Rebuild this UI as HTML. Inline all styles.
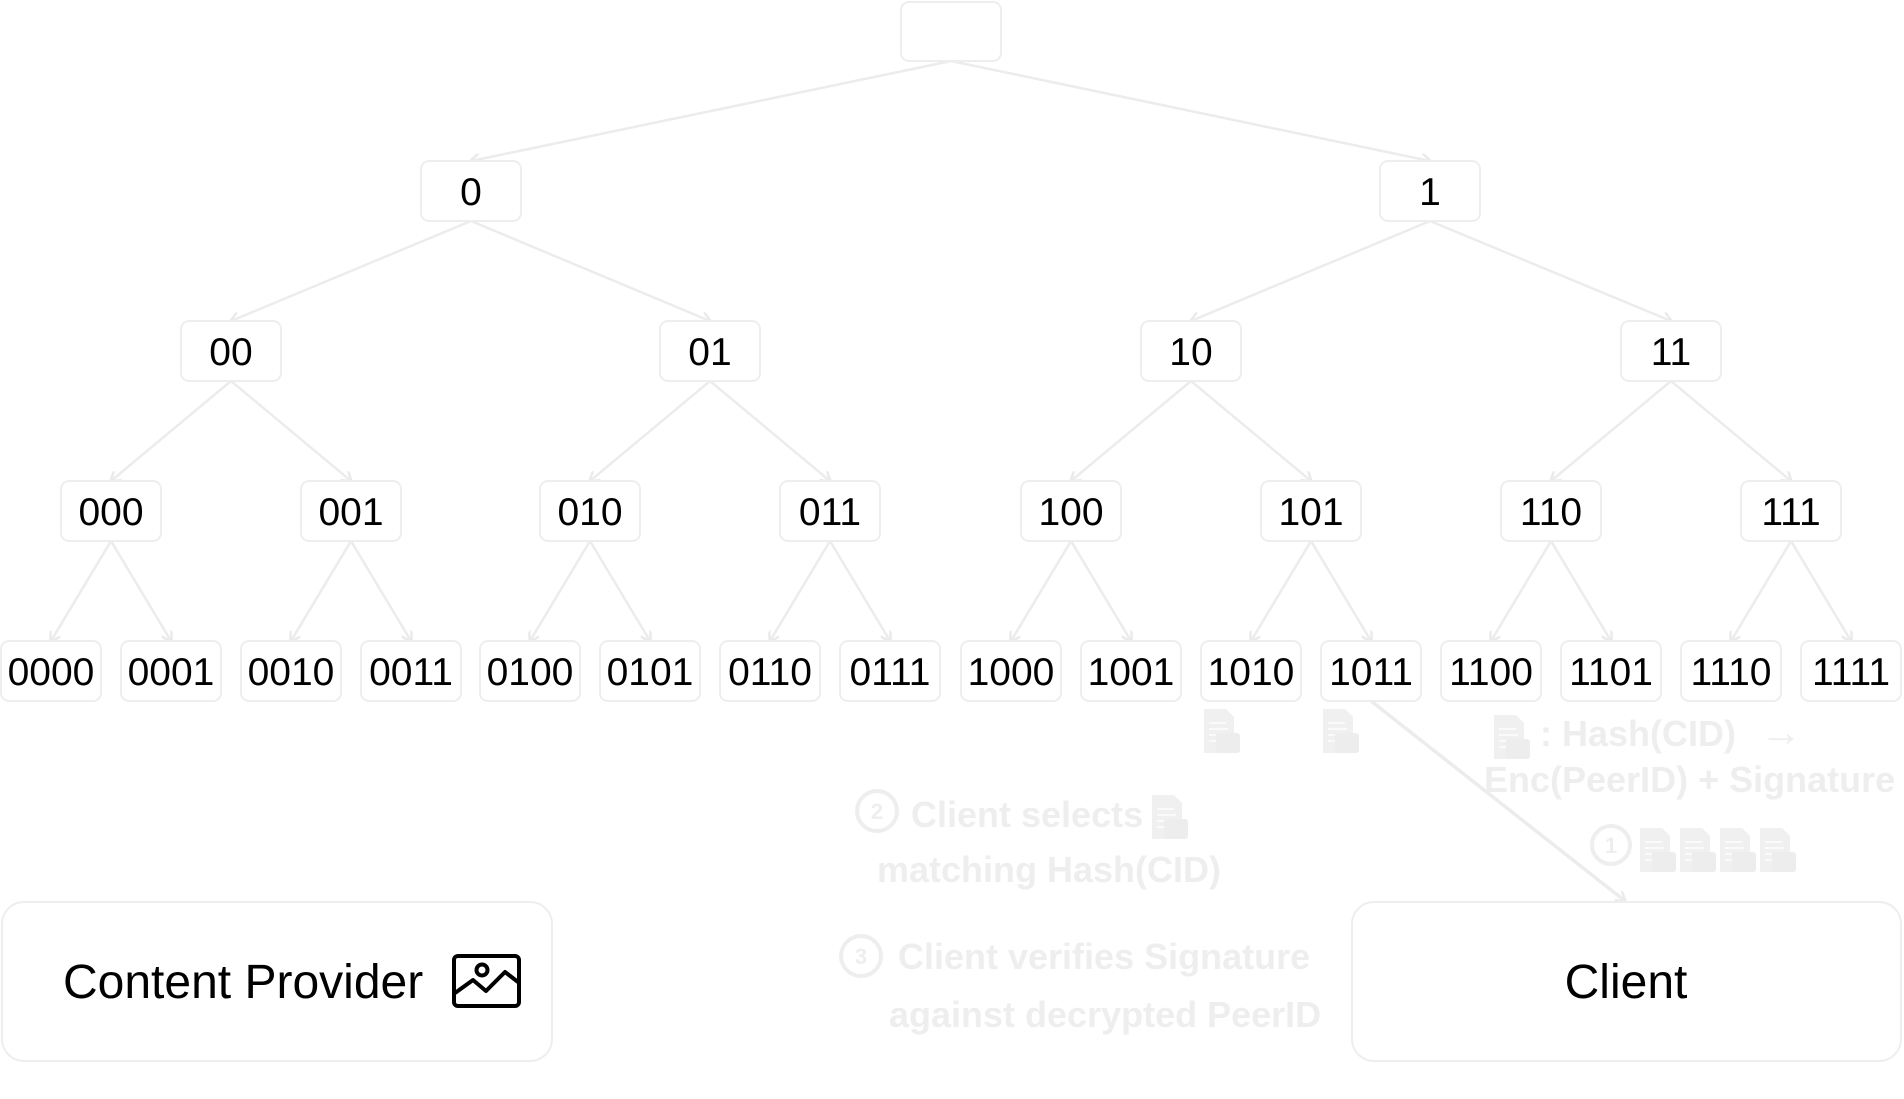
<!DOCTYPE html>
<html><head><meta charset="utf-8"><style>
html,body{margin:0;padding:0;background:#fff;}
svg{display:block;}
</style></head><body>
<svg width="1904" height="1099" viewBox="0 0 1904 1099" xmlns="http://www.w3.org/2000/svg" font-family="Liberation Sans, sans-serif">
<defs>
<marker id="ar" markerWidth="12" markerHeight="12" refX="9" refY="6" orient="auto" markerUnits="userSpaceOnUse">
<path d="M0,0 L10,6 L0,12" fill="none" stroke="#eaeaea" stroke-width="2.5"/>
</marker>
<g id="doc">
<path d="M0,0 H22 L30,8 V44 H0 Z" fill="#f0f0f0"/>
<path d="M5,14 H22 M5,20 H24 M5,26 H24 M5,32 H14" stroke="#fafafa" stroke-width="2"/>
<rect x="12" y="24" width="24" height="20" rx="3" fill="#ededed"/>
</g>
</defs>
<g stroke="#ececec" stroke-width="2.5" fill="none" marker-end="url(#ar)">
<line x1="951" y1="61" x2="471" y2="161"/>
<line x1="951" y1="61" x2="1430" y2="161"/>
<line x1="471" y1="221" x2="231" y2="321"/>
<line x1="471" y1="221" x2="710" y2="321"/>
<line x1="1430" y1="221" x2="1191" y2="321"/>
<line x1="1430" y1="221" x2="1671" y2="321"/>
<line x1="231" y1="381" x2="111" y2="481"/>
<line x1="231" y1="381" x2="351" y2="481"/>
<line x1="710" y1="381" x2="590" y2="481"/>
<line x1="710" y1="381" x2="830" y2="481"/>
<line x1="1191" y1="381" x2="1071" y2="481"/>
<line x1="1191" y1="381" x2="1311" y2="481"/>
<line x1="1671" y1="381" x2="1551" y2="481"/>
<line x1="1671" y1="381" x2="1791" y2="481"/>
<line x1="111" y1="541" x2="51" y2="641"/><line x1="111" y1="541" x2="171" y2="641"/>
<line x1="351" y1="541" x2="291" y2="641"/><line x1="351" y1="541" x2="411" y2="641"/>
<line x1="590" y1="541" x2="530" y2="641"/><line x1="590" y1="541" x2="650" y2="641"/>
<line x1="830" y1="541" x2="770" y2="641"/><line x1="830" y1="541" x2="890" y2="641"/>
<line x1="1071" y1="541" x2="1011" y2="641"/><line x1="1071" y1="541" x2="1131" y2="641"/>
<line x1="1311" y1="541" x2="1251" y2="641"/><line x1="1311" y1="541" x2="1371" y2="641"/>
<line x1="1551" y1="541" x2="1491" y2="641"/><line x1="1551" y1="541" x2="1611" y2="641"/>
<line x1="1791" y1="541" x2="1731" y2="641"/><line x1="1791" y1="541" x2="1851" y2="641"/>
<line x1="1371" y1="701" x2="1625" y2="901" stroke-width="3.5"/>
</g>
<g fill="#fff" stroke="#eeeeee" stroke-width="2">
<rect x="901" y="2" width="100" height="59" rx="8"/>
<rect x="421" y="161" width="100" height="60" rx="8"/>
<rect x="1380" y="161" width="100" height="60" rx="8"/>
<rect x="181" y="321" width="100" height="60" rx="8"/>
<rect x="660" y="321" width="100" height="60" rx="8"/>
<rect x="1141" y="321" width="100" height="60" rx="8"/>
<rect x="1621" y="321" width="100" height="60" rx="8"/>
<rect x="61" y="481" width="100" height="60" rx="8"/>
<rect x="301" y="481" width="100" height="60" rx="8"/>
<rect x="540" y="481" width="100" height="60" rx="8"/>
<rect x="780" y="481" width="100" height="60" rx="8"/>
<rect x="1021" y="481" width="100" height="60" rx="8"/>
<rect x="1261" y="481" width="100" height="60" rx="8"/>
<rect x="1501" y="481" width="100" height="60" rx="8"/>
<rect x="1741" y="481" width="100" height="60" rx="8"/>
<rect x="1" y="641" width="100" height="60" rx="8"/>
<rect x="121" y="641" width="100" height="60" rx="8"/>
<rect x="241" y="641" width="100" height="60" rx="8"/>
<rect x="361" y="641" width="100" height="60" rx="8"/>
<rect x="480" y="641" width="100" height="60" rx="8"/>
<rect x="600" y="641" width="100" height="60" rx="8"/>
<rect x="720" y="641" width="100" height="60" rx="8"/>
<rect x="840" y="641" width="100" height="60" rx="8"/>
<rect x="961" y="641" width="100" height="60" rx="8"/>
<rect x="1081" y="641" width="100" height="60" rx="8"/>
<rect x="1201" y="641" width="100" height="60" rx="8"/>
<rect x="1321" y="641" width="100" height="60" rx="8"/>
<rect x="1441" y="641" width="100" height="60" rx="8"/>
<rect x="1561" y="641" width="100" height="60" rx="8"/>
<rect x="1681" y="641" width="100" height="60" rx="8"/>
<rect x="1801" y="641" width="100" height="60" rx="8"/>
<rect x="2" y="902" width="550" height="159" rx="22"/>
<rect x="1352" y="902" width="549" height="159" rx="22"/>
</g>
<g font-size="39" text-anchor="middle" fill="#000">
<text x="471" y="205">0</text><text x="1430" y="205">1</text>
<text x="231" y="365">00</text><text x="710" y="365">01</text><text x="1191" y="365">10</text><text x="1671" y="365">11</text>
<text x="111" y="525">000</text><text x="351" y="525">001</text><text x="590" y="525">010</text><text x="830" y="525">011</text>
<text x="1071" y="525">100</text><text x="1311" y="525">101</text><text x="1551" y="525">110</text><text x="1791" y="525">111</text>
<text x="51" y="685">0000</text><text x="171" y="685">0001</text><text x="291" y="685">0010</text><text x="411" y="685">0011</text>
<text x="530" y="685">0100</text><text x="650" y="685">0101</text><text x="770" y="685">0110</text><text x="890" y="685">0111</text>
<text x="1011" y="685">1000</text><text x="1131" y="685">1001</text><text x="1251" y="685">1010</text><text x="1371" y="685">1011</text>
<text x="1491" y="685">1100</text><text x="1611" y="685">1101</text><text x="1731" y="685">1110</text><text x="1851" y="685">1111</text>
</g>
<text x="63" y="998" font-size="48" fill="#000">Content Provider</text>
<g fill="none" stroke="#000" stroke-width="4" stroke-linejoin="round">
<rect x="454" y="956" width="65" height="50" rx="4"/>
<path d="M455,993 L473,980 L486,991 L505,972 L518,982"/>
<circle cx="482" cy="970" r="5.5"/>
</g>
<text x="1626" y="998" font-size="48" fill="#000" text-anchor="middle">Client</text>
<use href="#doc" x="1204" y="709"/>
<use href="#doc" x="1323" y="709"/>
<use href="#doc" x="1494" y="715"/>
<g font-weight="bold" font-size="36" fill="#eeeeee">
<text x="1540" y="746">: Hash(CID)</text>
<text x="1760" y="746" font-size="42">→</text>
<text x="1484" y="792">Enc(PeerID) + Signature</text>
<text x="911" y="827">Client selects</text>
<text x="877" y="882">matching Hash(CID)</text>
<text x="898" y="969">Client verifies Signature</text>
<text x="889" y="1027">against decrypted PeerID</text>
</g>
<g fill="none" stroke="#eeeeee" stroke-width="4">
<circle cx="1611" cy="845" r="19"/>
<circle cx="877" cy="811" r="20"/>
<circle cx="861" cy="956" r="20"/>
</g>
<g font-weight="bold" font-size="22" fill="#eeeeee" text-anchor="middle">
<text x="1611" y="853">1</text><text x="877" y="819">2</text><text x="861" y="964">3</text>
</g>
<use href="#doc" x="1152" y="795"/>
<use href="#doc" x="1640" y="828"/>
<use href="#doc" x="1680" y="828"/>
<use href="#doc" x="1720" y="828"/>
<use href="#doc" x="1760" y="828"/>
</svg>
</body></html>
